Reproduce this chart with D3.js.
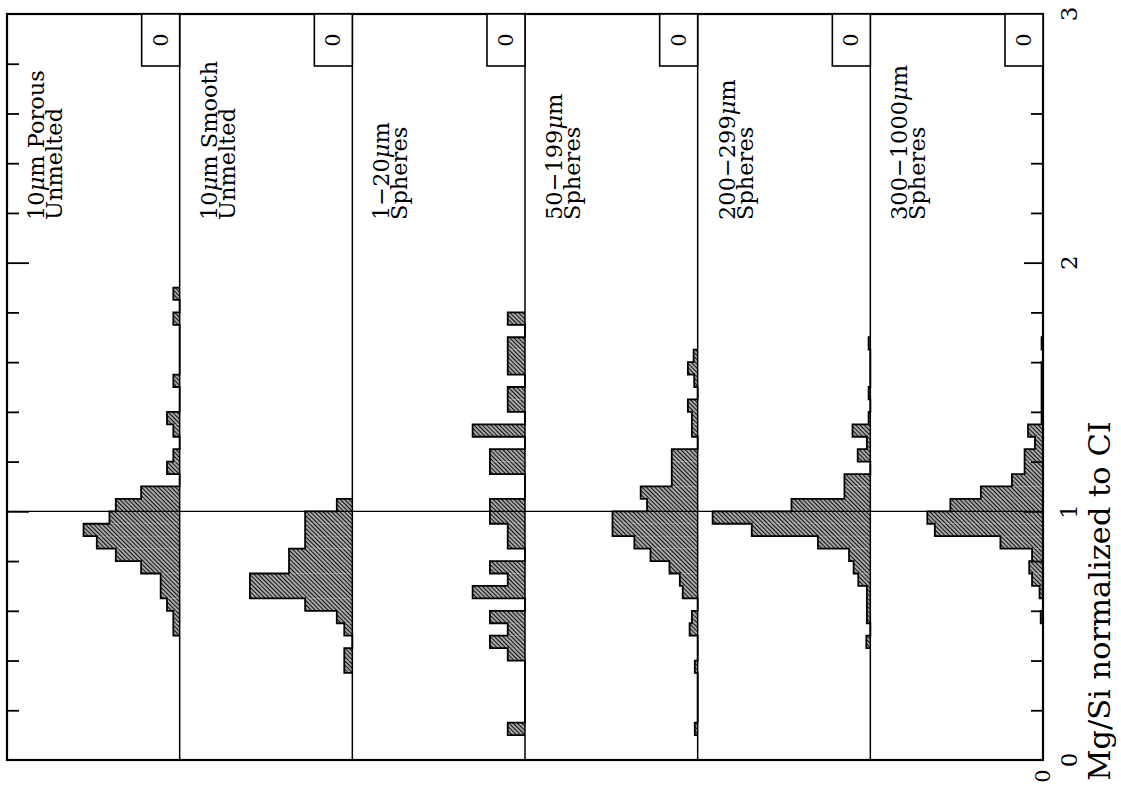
<!DOCTYPE html>
<html><head><meta charset="utf-8">
<script src="https://cdn.jsdelivr.net/npm/d3@7"></script>
<style>body{margin:0;background:#fff}svg{display:block}</style>
</head><body>
<svg id="c" width="1121" height="792"></svg>
<script>
// ---------- data ----------
const binWidth = 0.05;
const panelTitles = ["10μm Porous", "10μm Smooth", "1−20μm", "50−199μm", "200−299μm", "300−1000μm"];
const panelSubtitles = ["Unmelted", "Unmelted", "Spheres", "Spheres", "Spheres", "Spheres"];
const boxLabels = ["0", "0", "0", "0", "0", "0"];

const porousBins = [0.50,0.55,0.60,0.65,0.70,0.75,0.80,0.85,0.90,0.95,1.00,1.05,1.15,1.20,1.30,1.35,1.50,1.75,1.85];
const porousPct  = [1.1,1.1,2.2,3.3,3.3,6.7,11.1,14.4,16.7,12.2,11.1,6.7,2.2,1.1,1.1,2.2,1.1,1.1,1.1];

const smoothBins = [0.35,0.40,0.50,0.55,0.60,0.65,0.70,0.75,0.80,0.85,0.90,0.95,1.00];
const smoothPct  = [1.4,1.4,1.4,2.7,8.2,17.8,17.8,11.0,11.0,8.2,8.2,8.2,2.7];

const sph1Bins = [0.10,0.40,0.45,0.50,0.55,0.65,0.70,0.75,0.85,0.90,0.95,1.00,1.15,1.20,1.30,1.40,1.45,1.55,1.60,1.65,1.75];
const sph1Pct  = [3.0,3.0,6.1,3.0,6.1,9.1,3.0,6.1,3.0,3.0,6.1,6.1,6.1,6.1,9.1,3.0,3.0,3.0,3.0,3.0,3.0];

const sph50Bins = [0.10,0.35,0.50,0.55,0.65,0.70,0.75,0.80,0.85,0.90,0.95,1.00,1.05,1.10,1.15,1.20,1.30,1.35,1.40,1.50,1.55,1.60];
const sph50Pct  = [0.5,0.5,1.4,1.0,2.6,3.1,4.9,8.2,11.0,14.8,14.8,8.8,9.9,4.5,4.5,4.5,1.0,1.0,1.7,0.6,1.7,0.7];

const sph200Bins = [0.45,0.55,0.60,0.65,0.70,0.75,0.80,0.85,0.90,0.95,1.00,1.05,1.10,1.20,1.25,1.30,1.35,1.45,1.65];
const sph200Pct  = [0.7,0.6,0.6,0.6,2.1,2.9,3.7,9.1,20.6,27.4,13.7,4.5,4.5,2.2,0.6,3.1,0.3,0.3,0.3];

const sph300Bins = [0.55,0.65,0.70,0.75,0.80,0.85,0.90,0.95,1.00,1.05,1.10,1.15,1.20,1.25,1.30,1.35,1.40,1.45,1.50,1.55,1.65];
const sph300Pct  = [0.4,0.6,1.9,2.4,1.9,7.4,18.8,20.1,16.1,10.8,5.4,3.2,3.2,1.4,2.6,0.25,0.25,0.25,0.25,0.25,0.25];

const minorTicks = [0.2,0.4,0.6,0.8,1.2,1.4,1.6,1.8,2.2,2.4,2.6,2.8];
const majorTicks = [1,2];
const tickLabels = [0,1,2,3];
const axisTitle = "Mg/Si normalized to CI";

// ---------- layout ----------
const frameL = 7, frameR = 1043, frameT = 14, frameB = 760;
const nP = 6, pw = (frameR - frameL) / nP;
const serif = "'DejaVu Serif', serif";
const svg = d3.select("#c");
const ys = d3.scaleLinear().domain([0, 3]).range([frameB, frameT]);
const xs = d3.scaleLinear().domain([0, 30]).range([0, pw]);

const panels = [
  {bins: porousBins, pct: porousPct},
  {bins: smoothBins, pct: smoothPct},
  {bins: sph1Bins, pct: sph1Pct},
  {bins: sph50Bins, pct: sph50Pct},
  {bins: sph200Bins, pct: sph200Pct},
  {bins: sph300Bins, pct: sph300Pct}
];

const defs = svg.append("defs");
const pat = defs.append("pattern").attr("id", "hatch")
  .attr("patternUnits", "userSpaceOnUse").attr("width", 3).attr("height", 3)
  .attr("patternTransform", "rotate(-45)");
pat.append("rect").attr("width", 3).attr("height", 3).attr("fill", "#fff");
pat.append("line").attr("x1", 1.5).attr("y1", -1).attr("x2", 1.5).attr("y2", 4)
  .attr("stroke", "#111").attr("stroke-width", 1.75);

function outline(bins, vals) {
  const idx = d3.range(bins.length).sort((a, b) => bins[a] - bins[b]);
  const pts = [];
  let prevEnd = null;
  idx.forEach(k => {
    const b = bins[k], v = vals[k];
    if (prevEnd === null || Math.abs(b - prevEnd) > 1e-6) {
      if (prevEnd !== null) pts.push([0, prevEnd]);
      pts.push([0, b]);
    }
    pts.push([v, b]); pts.push([v, b + binWidth]);
    prevEnd = b + binWidth;
  });
  pts.push([0, prevEnd]);
  return pts;
}

panels.forEach((p, i) => {
  const base = frameL + (i + 1) * pw;
  const g = svg.append("g");
  g.selectAll("rect").data(p.bins.map((b, k) => ({b, v: p.pct[k]}))).join("rect")
    .attr("x", d => base - xs(d.v)).attr("y", d => ys(d.b + binWidth))
    .attr("width", d => xs(d.v)).attr("height", d => ys(d.b) - ys(d.b + binWidth))
    .attr("fill", "url(#hatch)");
  const line = d3.line().x(q => base - xs(q[0])).y(q => ys(q[1]));
  g.append("path").attr("d", line(outline(p.bins, p.pct)))
    .attr("fill", "none").attr("stroke", "#000").attr("stroke-width", 1.8);
});

// reference line at Mg/Si = 1
svg.append("line").attr("x1", frameL).attr("x2", frameR).attr("y1", ys(1)).attr("y2", ys(1))
  .attr("stroke", "#000").attr("stroke-width", 1.3);

// panel dividers
for (let i = 1; i < nP; i++) {
  svg.append("line").attr("x1", frameL + i * pw).attr("x2", frameL + i * pw)
    .attr("y1", frameT).attr("y2", frameB).attr("stroke", "#000").attr("stroke-width", 1.5);
}

// frame
svg.append("rect").attr("x", frameL).attr("y", frameT).attr("width", frameR - frameL)
  .attr("height", frameB - frameT).attr("fill", "none").attr("stroke", "#000").attr("stroke-width", 2.2);

// ticks
function tickAxis(axis, x) {
  svg.append("g").attr("transform", `translate(${x},0)`).call(axis)
    .call(g => g.select(".domain").remove())
    .call(g => g.selectAll("line").attr("stroke", "#000").attr("stroke-width", 1.8));
}
tickAxis(d3.axisLeft(ys).tickValues(minorTicks).tickSize(12).tickFormat(""), frameR);
tickAxis(d3.axisLeft(ys).tickValues(majorTicks).tickSize(19).tickFormat(""), frameR);
tickAxis(d3.axisRight(ys).tickValues(minorTicks).tickSize(12).tickFormat(""), frameL);
tickAxis(d3.axisRight(ys).tickValues(majorTicks).tickSize(22).tickFormat(""), frameL);

// tick labels
svg.selectAll("text.tl").data(tickLabels).join("text").attr("class", "tl")
  .attr("transform", d => `translate(1077,${ys(d)}) rotate(-90)`)
  .attr("text-anchor", "middle").attr("font-family", serif).attr("font-size", 23)
  .text(d => d);

// axis title
svg.append("text").attr("transform", "translate(1110,601) rotate(-90)")
  .attr("text-anchor", "middle").attr("font-family", serif).attr("font-size", 30.5)
  .text(axisTitle);

// count zero label
svg.append("text").attr("transform", `translate(1050,776) rotate(-90)`)
  .attr("text-anchor", "middle").attr("font-family", serif).attr("font-size", 21).text("0");

// boxes & panel labels
function addLabel(sel, str) {
  const parts = str.split("μ");
  sel.append("tspan").text(parts[0]);
  if (parts.length > 1) {
    sel.append("tspan").attr("font-style", "italic").text("μ");
    sel.append("tspan").text(parts[1]);
  }
}
panels.forEach((p, i) => {
  const left = frameL + i * pw, right = left + pw;
  svg.append("rect").attr("x", right - 38).attr("y", frameT).attr("width", 38).attr("height", 52)
    .attr("fill", "#fff").attr("stroke", "#000").attr("stroke-width", 1.6);
  svg.append("text").attr("transform", `translate(${right - 12},${frameT + 26}) rotate(-90)`)
    .attr("text-anchor", "middle").attr("font-family", serif).attr("font-size", 21).text(boxLabels[i]);
  const t1 = svg.append("text").attr("transform", `translate(${left + 37},220) rotate(-90)`)
    .attr("font-family", serif).attr("font-size", 22.5);
  addLabel(t1, panelTitles[i]);
  svg.append("text").attr("transform", `translate(${left + 55},220) rotate(-90)`)
    .attr("font-family", serif).attr("font-size", 22.5).text(panelSubtitles[i]);
});
</script>
</body></html>
